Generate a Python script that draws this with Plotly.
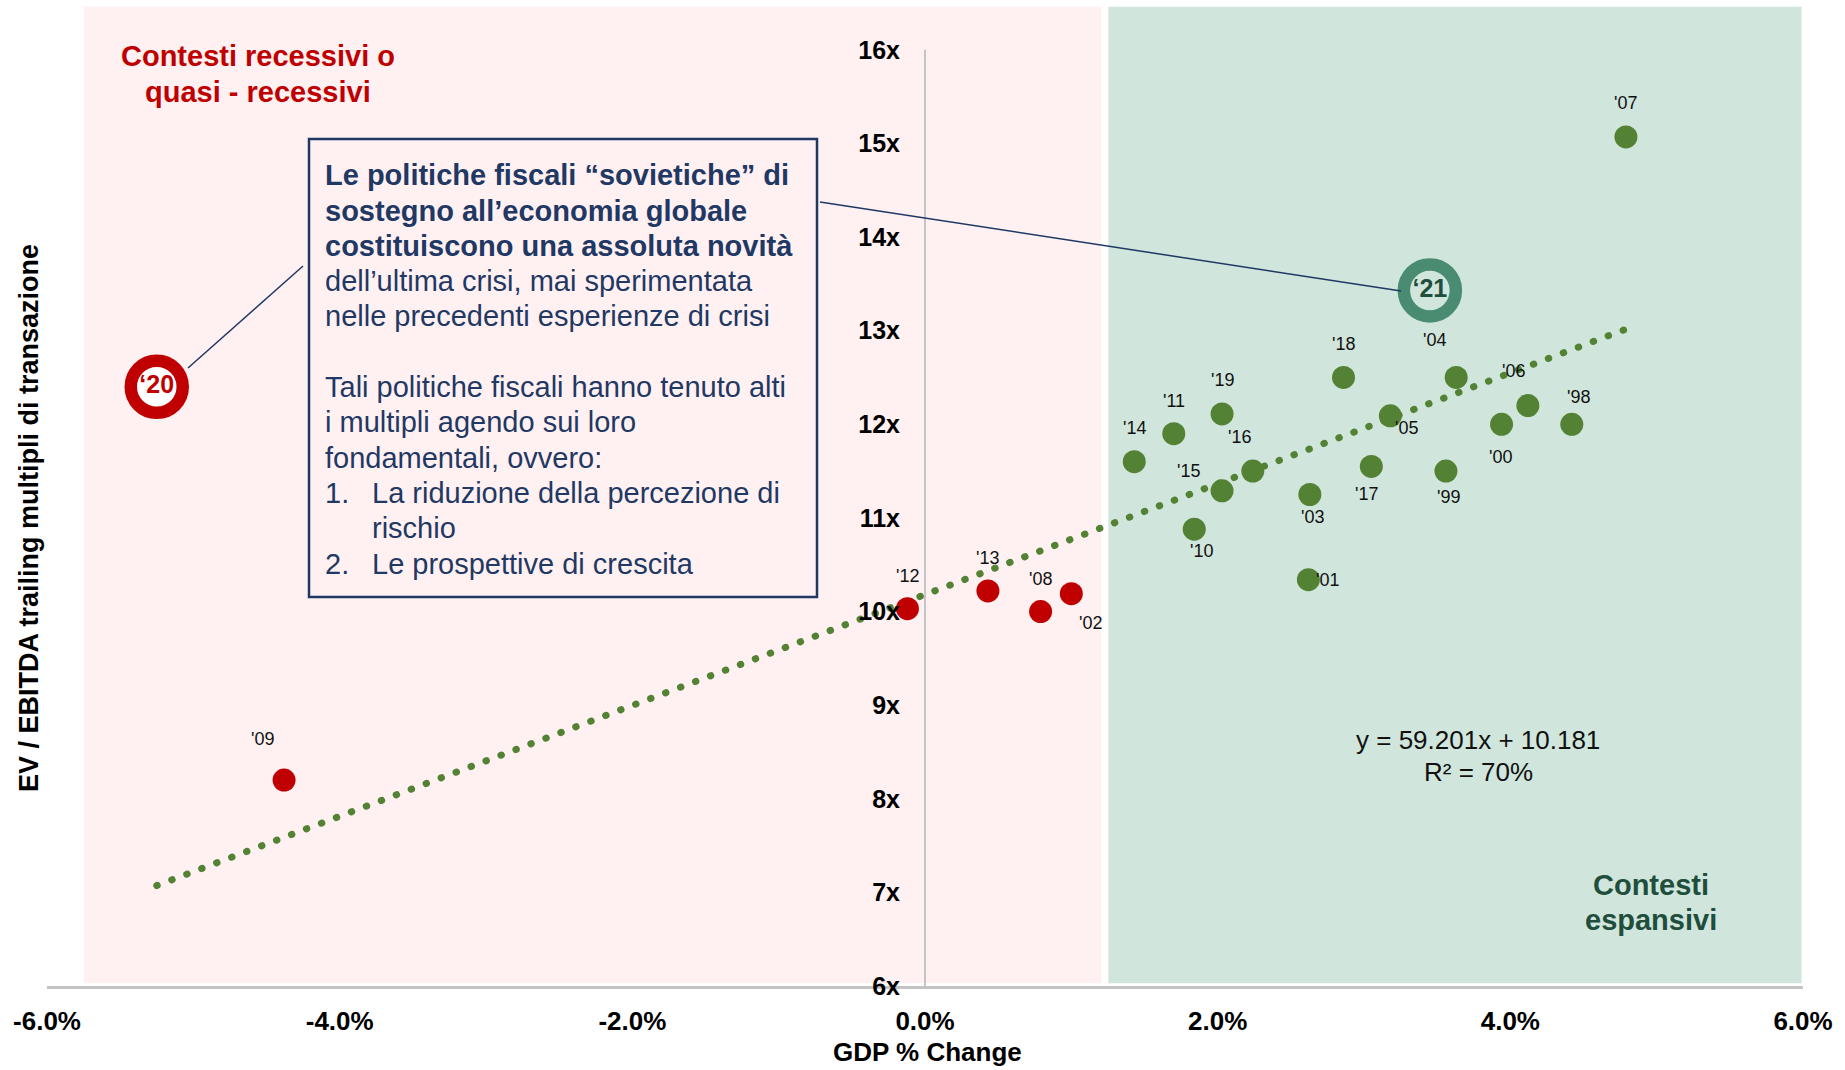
import plotly.graph_objects as go

# ---- data -------------------------------------------------------------
years = ["'07", "'18", "'04", "'19", "'11", "'05", "'06", "'00", "'98", "'14",
         "'16", "'15", "'17", "'99", "'03", "'10", "'01",
         "'12", "'13", "'08", "'02", "'09"]
gdp_change = [4.79, 2.86, 3.63, 2.03, 1.70, 3.18, 4.12, 3.94, 4.42, 1.43,
              2.24, 2.03, 3.05, 3.56, 2.63, 1.84, 2.62,
              -0.12, 0.43, 0.79, 1.00, -4.38]
ev_ebitda = [15.07, 12.50, 12.50, 12.11, 11.90, 12.09, 12.20, 12.00, 12.00, 11.60,
             11.50, 11.29, 11.55, 11.50, 11.25, 10.88, 10.34,
             10.03, 10.22, 10.00, 10.19, 8.20]
regime = ["esp"] * 17 + ["rec"] * 5

highlight_years = ["‘20", "‘21"]
highlight_gdp = [-5.25, 3.45]
highlight_ev = [12.40, 13.43]

slope, intercept, r_squared = 59.201, 10.181, 0.70

x_tickvals = [-6, -4, -2, 0, 2, 4, 6]
x_ticktext = ["-6.0%", "-4.0%", "-2.0%", "0.0%", "2.0%", "4.0%", "6.0%"]
y_tickvals = [6, 7, 8, 9, 10, 11, 12, 13, 14, 15, 16]
y_ticktext = ["6x", "7x", "8x", "9x", "10x", "11x", "12x", "13x", "14x", "15x", "16x"]

box_lines = [
    ("Le politiche fiscali “sovietiche” di", True),
    ("sostegno all’economia globale", True),
    ("costituiscono una assoluta novità", True),
    ("dell’ultima crisi, mai sperimentata", False),
    ("nelle precedenti esperienze di crisi", False),
    ("", False),
    ("Tali politiche fiscali hanno tenuto alti", False),
    ("i multipli agendo sui loro", False),
    ("fondamentali, ovvero:", False),
]
list_items = [
    ("1.", ["La riduzione della percezione di", "rischio"]),
    ("2.", ["Le prospettive di crescita"]),
]

# ---- styling ----------------------------------------------------------
FONT = "Arial, Liberation Sans, sans-serif"
GREEN = "#548235"
RED = "#C00000"
TEAL = "#4A8C72"
DARK_GREEN = "#1F4E3D"
NAVY = "#1F3864"
PINK_BG = "#FFF1F1"
GREEN_BG = "#D0E6DC"
AXIS_GREY = "#C4C4C4"

# label offsets (px, right / down) for each year tag
label_offsets = {
    "'07": (0, -34), "'18": (0, -33), "'04": (-22, -37), "'19": (0, -34),
    "'11": (0, -33), "'14": (0, -34), "'06": (-14, -35), "'98": (7, -27),
    "'05": (16, 12), "'16": (-13, -34), "'15": (-34, -20), "'00": (-1, 33),
    "'17": (-5, 28), "'99": (3, 26), "'03": (3, 22), "'10": (7, 22),
    "'01": (19, 0), "'12": (0, -33), "'13": (0, -33), "'08": (0, -33),
    "'02": (19, 29), "'09": (-22, -41),
}

L, R, T, B = 47, 42, 3, 84
W, H = 1845, 1070


def px(xp):
    return (xp - L) / (W - L - R)


def py(yp):
    return (H - B - yp) / (H - T - B)


def note(text, xp, yp, size, color, xanchor="center", angle=0, align="center"):
    return dict(
        x=px(xp), y=py(yp), xref="paper", yref="paper",
        xanchor=xanchor, yanchor="middle", align=align, textangle=angle,
        text=text, showarrow=False,
        font=dict(family=FONT, size=size, color=color),
    )


fig = go.Figure()

# regression line over the full range of observations
all_x = gdp_change + highlight_gdp
x_lo, x_hi = min(all_x), max(all_x)
fig.add_trace(go.Scatter(
    x=[x_lo, x_hi],
    y=[slope * x_lo / 100 + intercept, slope * x_hi / 100 + intercept],
    mode="lines",
    line=dict(color=GREEN, width=7, dash="0.5px,15.5px"),
    hoverinfo="skip", showlegend=False,
))

# yearly observations
for key, col in (("rec", RED), ("esp", GREEN)):
    idx = [i for i, r in enumerate(regime) if r == key]
    fig.add_trace(go.Scatter(
        x=[gdp_change[i] for i in idx],
        y=[ev_ebitda[i] for i in idx],
        mode="markers",
        marker=dict(color=col, size=23, line=dict(width=0)),
        hoverinfo="skip", showlegend=False,
    ))

# highlighted years drawn as rings
ring_fill = ["white", GREEN_BG]
ring_line = [RED, TEAL]
ring_text = [RED, DARK_GREEN]
fig.add_trace(go.Scatter(
    x=highlight_gdp, y=highlight_ev,
    mode="markers+text",
    marker=dict(color=ring_fill, size=52, line=dict(color=ring_line, width=12.5)),
    text=[f"<b>{t}</b>" for t in highlight_years],
    textposition="middle center",
    textfont=dict(family=FONT, size=25, color=ring_text),
    hoverinfo="skip", showlegend=False,
))

annotations = []
for yr, xv, yv in zip(years, gdp_change, ev_ebitda):
    dx, dy = label_offsets[yr]
    annotations.append(dict(
        x=xv, y=yv, xref="x", yref="y", text=yr, showarrow=False,
        xshift=dx, yshift=-dy, xanchor="center", yanchor="middle",
        font=dict(family=FONT, size=18, color="#111111"),
    ))

# region captions
annotations.append(note("<b>Contesti recessivi o</b>", 258, 56.5, 29, RED))
annotations.append(note("<b>quasi - recessivi</b>", 258, 91.8, 29, RED))
annotations.append(note("<b>Contesti</b>", 1651, 885, 29, DARK_GREEN))
annotations.append(note("<b>espansivi</b>", 1651, 920, 29, DARK_GREEN))

# regression equation
annotations.append(note(f"y = {slope:.3f}x + {intercept:.3f}", 1478, 740, 26, "#111111"))
annotations.append(note(f"R² = {r_squared:.0%}", 1478, 772, 26, "#111111"))

# commentary box text, one annotation per line
LINE_TOP, LINE_STEP = 175.3, 35.3
row = 0
for text, bold in box_lines:
    if text:
        t = f"<b>{text}</b>" if bold else text
        annotations.append(note(t, 323, LINE_TOP + row * LINE_STEP, 29, NAVY,
                                xanchor="left", align="left"))
    row += 1
for num, lines in list_items:
    annotations.append(note(num, 323, LINE_TOP + row * LINE_STEP, 29, NAVY,
                            xanchor="left", align="left"))
    for ln in lines:
        annotations.append(note(ln, 370, LINE_TOP + row * LINE_STEP, 29, NAVY,
                                xanchor="left", align="left"))
        row += 1

# axis titles
annotations.append(note("<b>EV / EBITDA trailing multipli di transazione</b>",
                        29, 518, 27, "#000000", angle=-90))
annotations.append(note("<b>GDP % Change</b>", 927, 1052, 26, "#000000"))

shapes = [
    # recessive / expansive backgrounds
    dict(type="rect", xref="x", yref="y", x0=-5.75, x1=1.205, y0=6.03, y1=16.46,
         fillcolor=PINK_BG, line=dict(width=0), layer="below"),
    dict(type="rect", xref="x", yref="y", x0=1.253, x1=5.99, y0=6.03, y1=16.46,
         fillcolor=GREEN_BG, line=dict(width=0), layer="below"),
    # vertical value axis at zero growth
    dict(type="line", xref="x", yref="y", x0=0, x1=0, y0=6, y1=16,
         line=dict(color=AXIS_GREY, width=2), layer="below"),
    # commentary box
    dict(type="rect", xref="paper", yref="paper",
         x0=px(309), x1=px(817), y0=py(597), y1=py(139),
         line=dict(color=NAVY, width=2.5), fillcolor="rgba(0,0,0,0)"),
    # leader lines
    dict(type="line", xref="paper", yref="paper",
         x0=px(188), y0=py(368), x1=px(303), y1=py(266),
         line=dict(color=NAVY, width=1.5)),
    dict(type="line", xref="paper", yref="paper",
         x0=px(820), y0=py(202), x1=px(1401), y1=py(291),
         line=dict(color=NAVY, width=1.5)),
]

fig.update_layout(
    width=W, height=H,
    margin=dict(l=L, r=R, t=T, b=B),
    paper_bgcolor="white", plot_bgcolor="white",
    showlegend=False,
    annotations=annotations,
    shapes=shapes,
    xaxis=dict(
        range=[-6, 6], tickvals=x_tickvals, ticktext=x_ticktext,
        showgrid=False, zeroline=False,
        showline=True, linecolor=AXIS_GREY, linewidth=2.5,
        ticks="outside", ticklen=10, tickcolor="rgba(0,0,0,0)",
        tickfont=dict(family=FONT, size=26, color="#000000", weight="bold"),
        fixedrange=True,
    ),
    yaxis=dict(
        range=[6, 16.5], tickvals=y_tickvals, ticktext=y_ticktext,
        anchor="free", position=0.5, side="left",
        showgrid=False, zeroline=False, showline=False,
        ticks="outside", ticklen=20, tickcolor="rgba(0,0,0,0)",
        tickfont=dict(family=FONT, size=25, color="#000000", weight="bold"),
        fixedrange=True,
    ),
)

# round caps turn the dashed regression line into a row of dots
round_caps = """
var gd = document.getElementById('{plot_id}');
gd.querySelectorAll('.scatterlayer .trace:first-of-type path.js-line').forEach(function(p){
  p.style.strokeLinecap = 'round';
});
"""

fig.write_html("out.html", config={"displayModeBar": False}, post_script=round_caps)
